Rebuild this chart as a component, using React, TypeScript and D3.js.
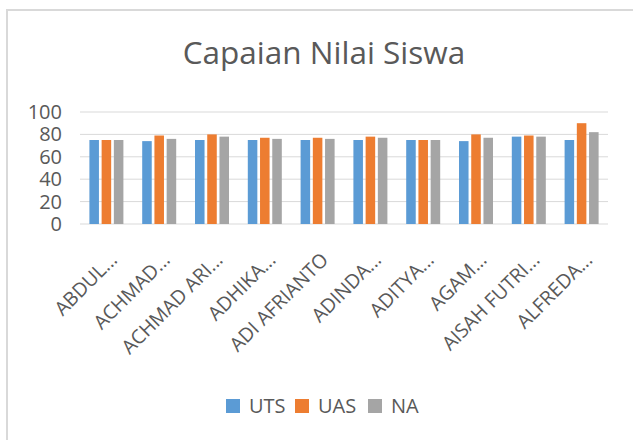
import React, { useEffect, useRef } from 'react'
import * as d3 from 'd3'

const students = [
    'ABDUL...',
    'ACHMAD...',
    'ACHMAD ARI...',
    'ADHIKA...',
    'ADI AFRIANTO',
    'ADINDA...',
    'ADITYA...',
    'AGAM...',
    'AISAH FUTRI...',
    'ALFREDA...',
]
const uts = [75, 74, 75, 75, 75, 75, 75, 74, 78, 75]
const uas = [75, 79, 80, 77, 77, 78, 75, 80, 79, 90]
const na = [75, 76, 78, 76, 76, 77, 75, 77, 78, 82]
const seriesNames = ['UTS', 'UAS', 'NA']
const seriesColors = ['#5b9bd5', '#ed7d31', '#a5a5a5']
const yTicks = [0, 20, 40, 60, 80, 100]

export default function App() {
    const svgRef = useRef<SVGSVGElement>(null)

    useEffect(() => {
        const W = 633
        const H = 440
        const font = "'Open Sans', sans-serif"
        const textColor = '#595959'
        const svg = d3.select(svgRef.current).attr('width', W).attr('height', H)
        svg.selectAll('*').remove()

        svg.append('rect').attr('width', W).attr('height', H).attr('fill', '#fff')
        // chart frame
        svg.append('rect')
            .attr('x', 7)
            .attr('y', 10)
            .attr('width', W + 10)
            .attr('height', H + 10)
            .attr('fill', 'none')
            .attr('stroke', '#d9d9d9')
            .attr('stroke-width', 2)

        svg.append('text')
            .attr('x', 324)
            .attr('y', 64)
            .attr('text-anchor', 'middle')
            .attr('font-family', font)
            .attr('font-size', 31.5)
            .attr('fill', textColor)
            .text('Capaian Nilai Siswa')

        const left = 80
        const right = 608
        const top = 112
        const bottom = 224

        const x = d3.scaleBand().domain(students).range([left, right])
        const y = d3.scaleLinear().domain([0, 100]).range([bottom, top])

        const grid = svg.append('g')
        grid.selectAll('line')
            .data(yTicks)
            .enter()
            .append('line')
            .attr('x1', left)
            .attr('x2', right)
            .attr('y1', (d) => y(d))
            .attr('y2', (d) => y(d))
            .attr('stroke', '#d9d9d9')
            .attr('stroke-width', 1)

        svg.append('g')
            .selectAll('text')
            .data(yTicks)
            .enter()
            .append('text')
            .attr('x', 62)
            .attr('y', (d) => y(d) + 7)
            .attr('text-anchor', 'end')
            .attr('font-family', font)
            .attr('font-size', 20)
            .attr('fill', textColor)
            .text((d) => d)

        const rows = students.map((s, i) => ({ name: s, values: [uts[i], uas[i], na[i]] }))
        const inner = d3.scaleBand().domain(seriesNames).range([-17, 17]).paddingInner(0.22)

        const groups = svg.append('g')
            .selectAll('g')
            .data(rows)
            .enter()
            .append('g')
            .attr('transform', (d) => `translate(${x(d.name)! + x.bandwidth() / 2},0)`)

        groups.selectAll('rect')
            .data((d) => d.values.map((v, k) => ({ key: seriesNames[k], v, k })))
            .enter()
            .append('rect')
            .attr('x', (d) => inner(d.key)!)
            .attr('width', inner.bandwidth())
            .attr('y', (d) => y(d.v))
            .attr('height', (d) => bottom - y(d.v))
            .attr('fill', (d) => seriesColors[d.k])

        svg.append('g')
            .selectAll('text')
            .data(students)
            .enter()
            .append('text')
            .attr('transform', (d) => `translate(${x(d)! + x.bandwidth() / 2 + 12},${bottom + 37}) rotate(-45)`)
            .attr('text-anchor', 'end')
            .attr('font-family', font)
            .attr('font-size', 19.5)
            .attr('fill', textColor)
            .text((d) => d)

        // legend
        const legendX = [226, 295, 368]
        const legend = svg.append('g')
            .selectAll('g')
            .data(seriesNames)
            .enter()
            .append('g')
            .attr('transform', (d, i) => `translate(${legendX[i]},399)`)
        legend.append('rect')
            .attr('width', 14)
            .attr('height', 14)
            .attr('fill', (d, i) => seriesColors[i])
        legend.append('text')
            .attr('x', 23)
            .attr('y', 14)
            .attr('font-family', font)
            .attr('font-size', 20)
            .attr('fill', textColor)
            .text((d) => d)
    }, [])

    return (
        <div style={{ position: 'absolute', left: 0, top: 0 }}>
            <svg ref={svgRef} style={{ display: 'block' }} />
        </div>
    )
}
